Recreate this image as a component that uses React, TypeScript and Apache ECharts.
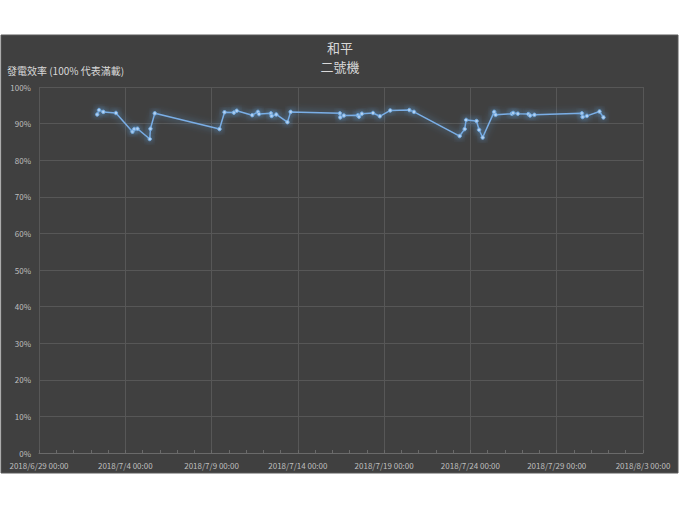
import React, { useEffect, useRef } from "react";
import * as echarts from "echarts";

const titleLines = ["和平", "二號機"];
const yAxisName = "發電效率 (100% 代表滿載)";
const axisStart = [2018, 6, 29];
const axisDays = 35;
const tickStepDays = 5;
const yTicks = [0, 10, 20, 30, 40, 50, 60, 70, 80, 90, 100];

const times = [
  "2018-07-02 09:00", "2018-07-02 11:30", "2018-07-02 17:30", "2018-07-03 11:00",
  "2018-07-04 10:00", "2018-07-04 12:30", "2018-07-04 17:00", "2018-07-05 10:00",
  "2018-07-05 11:00", "2018-07-05 17:00", "2018-07-09 11:00", "2018-07-09 18:00",
  "2018-07-10 07:00", "2018-07-10 11:00", "2018-07-11 08:30", "2018-07-11 16:30",
  "2018-07-11 18:00", "2018-07-12 10:30", "2018-07-12 11:30", "2018-07-12 18:00",
  "2018-07-13 09:30", "2018-07-13 14:00", "2018-07-16 10:30", "2018-07-16 11:00",
  "2018-07-16 16:00", "2018-07-17 11:30", "2018-07-17 13:00", "2018-07-17 17:00",
  "2018-07-18 08:30", "2018-07-18 18:00", "2018-07-19 08:30", "2018-07-20 11:00",
  "2018-07-20 17:30", "2018-07-23 09:00", "2018-07-23 16:00", "2018-07-23 18:00",
  "2018-07-24 08:30", "2018-07-24 12:00", "2018-07-24 17:00", "2018-07-25 09:00",
  "2018-07-25 11:00", "2018-07-26 09:30", "2018-07-26 11:30", "2018-07-26 18:00",
  "2018-07-27 08:30", "2018-07-27 11:00", "2018-07-27 17:00", "2018-07-30 11:00",
  "2018-07-30 12:00", "2018-07-30 18:00", "2018-07-31 11:30", "2018-07-31 17:00",
];

const efficiency = [
  92.5, 93.7, 93.2, 92.9,
  87.8, 88.5, 88.6, 85.8,
  88.6, 92.8, 88.5, 93.1,
  93.0, 93.5, 92.3, 93.2,
  92.6, 92.8, 92.1, 92.5,
  90.4, 93.2, 92.8, 91.7,
  92.2, 92.3, 91.9, 92.7,
  92.9, 92.0, 93.6, 93.7,
  93.2, 86.6, 88.5, 91.0,
  90.7, 88.3, 86.2, 93.2,
  92.4, 92.7, 92.9, 92.7,
  92.6, 92.2, 92.4, 92.8,
  91.8, 92.1, 93.3, 91.7,
];

const base = new Date(axisStart[0], axisStart[1] - 1, axisStart[2]).getTime();
const DAY = 86400000;

function toDays(s: string): number {
  const [d, t] = s.split(" ");
  const [y, m, dd] = d.split("-").map(Number);
  const [hh, mm] = t.split(":").map(Number);
  return (new Date(y, m - 1, dd, hh, mm).getTime() - base) / DAY;
}

function dayLabel(v: number): string {
  const dt = new Date(base + Math.round(v) * DAY);
  return `${dt.getFullYear()}/${dt.getMonth() + 1}/${dt.getDate()} 00:00`;
}

const FONT = "'Noto Sans CJK TC', 'Noto Sans', sans-serif";

export default function App() {
  const ref = useRef<HTMLDivElement>(null);
  useEffect(() => {
    if (!ref.current) return;
    const chart = echarts.init(ref.current, undefined, { renderer: "svg" });
    const seriesData = times.map((t, i) => [toDays(t), efficiency[i]]);
    chart.setOption({
      animation: false,
      backgroundColor: "#ffffff",
      graphic: [
        {
          type: "rect",
          z: -10,
          shape: { x: 1, y: 35, width: 677, height: 438 },
          style: { fill: "#404040", stroke: "#595959", lineWidth: 1 },
          silent: true,
        },
        {
          type: "text",
          x: 7,
          y: 65,
          style: {
            text: yAxisName,
            fill: "#d9d9d9",
            fontSize: 10,
            fontFamily: FONT,
          },
        },
      ],
      title: {
        text: titleLines.join("\n"),
        left: "center",
        top: 33,
        textStyle: {
          color: "#d9d9d9",
          fontSize: 13,
          fontWeight: "normal",
          lineHeight: 19,
          fontFamily: FONT,
        },
      },
      grid: { left: 39, right: 37, top: 87, bottom: 57 },
      xAxis: {
        type: "value",
        min: 0,
        max: axisDays,
        interval: tickStepDays,
        axisLine: { show: true, lineStyle: { color: "#6a6a6a", width: 1 } },
        axisTick: { show: true, inside: true, length: 3, lineStyle: { color: "#6a6a6a" } },
        minorTick: { show: true, splitNumber: 5, length: 3, lineStyle: { color: "#6a6a6a" } },
        splitLine: { show: true, lineStyle: { color: "#575757", width: 1 } },
        axisLabel: {
          color: "#bfbfbf",
          fontSize: 8,
          margin: 8,
          fontFamily: FONT,
          formatter: (v: number) => dayLabel(v),
        },
      },
      yAxis: {
        type: "value",
        min: yTicks[0],
        max: yTicks[yTicks.length - 1],
        interval: yTicks[1] - yTicks[0],
        axisLine: { show: false },
        axisTick: { show: false },
        splitLine: { show: true, lineStyle: { color: "#575757", width: 1 } },
        axisLabel: {
          color: "#bfbfbf",
          fontSize: 8,
          margin: 8,
          fontFamily: FONT,
          formatter: (v: number) => `${v}%`,
        },
      },
      series: [
        {
          type: "line",
          data: seriesData,
          symbol: "circle",
          symbolSize: 3.5,
          showSymbol: true,
          lineStyle: {
            color: "#7aaee6",
            width: 1.5,
            shadowBlur: 7,
            shadowColor: "rgba(91,155,213,0.95)",
          },
          itemStyle: {
            color: "#b4d2f2",
            borderColor: "#6fa8e0",
            borderWidth: 1,
            shadowBlur: 6,
            shadowColor: "rgba(91,155,213,0.95)",
          },
        },
      ],
    });
    return () => chart.dispose();
  }, []);
  return (
    <div
      ref={ref}
      style={{ position: "absolute", left: 0, top: 0, width: 680, height: 510 }}
    />
  );
}
